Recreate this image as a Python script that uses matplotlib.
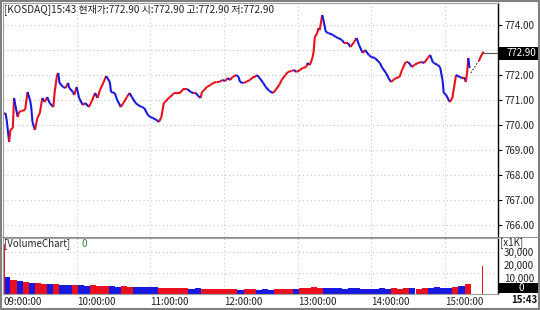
import matplotlib
matplotlib.use('Agg')
import matplotlib.pyplot as plt
import numpy as np
from matplotlib.collections import LineCollection
from matplotlib.patches import Rectangle

plt.rcParams['font.family'] = ['Noto Sans CJK KR', 'DejaVu Sans']

# ---------------- data ----------------
# minutes after 09:00 and KOSDAQ index value
t1 = [0, 2, 3, 5, 6, 8, 9, 10, 12, 13, 15, 18, 20, 22, 23, 24, 26, 28, 30, 32,
      34, 36, 38, 41, 42, 44, 45, 46, 49, 51, 53, 54, 57, 58, 60, 62, 65, 67, 70, 72,
      75, 77, 79, 82, 84, 87, 88, 91, 93, 96, 98, 101, 103]
p1 = [770.44, 770.48, 770.20, 769.32, 769.80, 769.88, 771.08, 770.80, 770.32, 770.52,
      770.56, 770.60, 771.32, 771.00, 770.72, 770.12, 769.80, 770.28, 770.48, 771.08,
      770.92, 771.12, 770.88, 770.72, 771.28, 772.00, 772.08, 771.68, 771.52, 771.48,
      771.68, 771.48, 771.32, 771.20, 771.52, 771.08, 770.80, 770.88, 770.72, 770.92,
      771.28, 771.08, 771.40, 771.72, 771.96, 771.72, 771.32, 771.28, 771.00, 770.72,
      770.88, 771.12, 771.28]
t2 = [105, 108, 110, 113, 115, 118, 120, 122, 125, 127, 129, 131, 132, 135, 138, 139,
      144, 147, 150, 153, 155, 157, 159, 161, 162, 164, 166, 169, 171, 174, 176, 179,
      181, 183, 185, 187, 190, 192, 193, 196, 198, 201, 204]
p2 = [771.12, 770.88, 770.80, 770.72, 770.68, 770.40, 770.32, 770.28, 770.20, 770.12,
      770.32, 770.88, 770.92, 771.08, 771.20, 771.28, 771.28, 771.44, 771.44, 771.32,
      771.28, 771.28, 771.16, 771.08, 771.32, 771.40, 771.52, 771.60, 771.68, 771.72,
      771.72, 771.80, 771.76, 771.88, 771.80, 771.92, 772.00, 771.92, 771.72, 771.68,
      771.72, 771.80, 771.92]
t3 = [205, 207, 209, 212, 214, 217, 220, 222, 225, 227, 230, 232, 235, 237, 239, 242,
      244, 247, 248, 250, 252, 253, 254, 256, 257, 258, 260, 261, 263, 265, 269, 271,
      273, 276, 278, 281, 283, 286, 288, 290, 293, 295, 298, 300]
p3 = [771.92, 772.00, 771.88, 771.68, 771.52, 771.36, 771.28, 771.40, 771.60, 771.80,
      772.00, 772.12, 772.16, 772.20, 772.12, 772.20, 772.28, 772.32, 772.48, 772.40,
      772.68, 772.92, 773.52, 773.68, 773.88, 773.80, 774.40, 774.20, 773.72, 773.68,
      773.60, 773.52, 773.48, 773.40, 773.28, 773.28, 773.12, 773.32, 773.48, 773.20,
      772.88, 773.00, 772.80, 772.72]
t4 = [303, 307, 309, 312, 314, 316, 318, 320, 323, 325, 328, 330, 332, 333, 335, 338,
      341, 343, 346, 348, 350, 351, 354, 356, 358, 359, 361, 363, 364, 366, 368, 369,
      372, 374, 376, 377, 378, 379, 380]
p4 = [772.68, 772.48, 772.28, 772.08, 771.88, 771.72, 771.80, 771.88, 771.92, 772.20,
      772.52, 772.52, 772.40, 772.32, 772.40, 772.48, 772.52, 772.48, 772.68, 772.80,
      772.52, 772.48, 772.40, 772.32, 771.80, 771.28, 771.20, 771.00, 770.92, 771.08,
      771.68, 772.00, 771.92, 771.88, 771.88, 771.72, 772.08, 772.68, 772.28]
auction_t = [381, 388]
auction_p = [772.08, 772.60]
close_t = [388, 389, 391]
close_p = [772.60, 772.72, 772.90]
last_price = 772.90

# volume, 5-minute buckets starting 09:00 (unit: x1K)
vol_09 = [12000, 10000, 9300, 8600, 7900, 7900, 7100, 7100, 7100, 6400, 6400, 6400]
vol_10 = [6400, 5700, 6400, 5700, 5700, 5700, 5000, 5700, 5000, 5000, 5000, 5000]
vol_11 = [5000, 4300, 4300, 4300, 4300, 4300, 3600, 4300, 3600, 3600, 3600, 3600]
vol_12 = [3600, 3600, 2900, 3600, 3600, 2900, 3600, 2900, 3600, 3600, 3600, 3600]
vol_13 = [4300, 4300, 5000, 4300, 4300, 4300, 4300, 3600, 4300, 4300, 3600, 3600]
vol_14 = [3600, 4300, 3600, 4300, 3600, 4300, 4300, 3600, 4300, 4300, 5000, 4300]
vol_15 = [4300, 5000, 5700, 7100]
open_vol = 36000
close_vol = 20000

hour_ticks = [0, 60, 120, 180, 240, 300, 360]
hour_labels = ['09:00:00', '10:00:00', '11:00:00', '12:00:00', '13:00:00', '14:00:00', '15:00:00']
price_ticks = [766, 767, 768, 769, 770, 771, 772, 773, 774]
hidden_price_labels = [773]   # covered by the last-price box in the reference

RED = '#e8101e'
BLUE = '#1818e0'

# ---------------- figure ----------------
W, H = 540, 310
fig = plt.figure(figsize=(W / 100, H / 100), dpi=100)
fig.patch.set_facecolor('white')

def fx(x):
    return x / W

def fy(y):
    return 1 - y / H

XMAX = 403.2
ax = fig.add_axes([fx(3), fy(237), fx(498) - fx(3), fy(3) - fy(237)])
axv = fig.add_axes([fx(3), fy(294), fx(498) - fx(3), fy(238) - fy(294)])

t_all = np.array(t1 + t2 + t3 + t4, dtype=float)
p_all = np.array(p1 + p2 + p3 + p4)

pts = np.column_stack([t_all, p_all])
segs = np.stack([pts[:-1], pts[1:]], axis=1)
cols = [RED if p_all[i + 1] >= p_all[i] else BLUE for i in range(len(p_all) - 1)]
ax.add_collection(LineCollection(segs, colors=cols, linewidths=1.5, capstyle='butt'))
ax.plot(auction_t, auction_p, color='#333333', lw=0.8, ls=(0, (1.5, 1.5)))
ax.plot(close_t, close_p, color=RED, lw=1.5)
ax.plot([close_t[-1], XMAX], [last_price, last_price], color='#555555', lw=0.8, clip_on=False)

ax.set_xlim(0, XMAX)
ax.set_ylim(765.52, 774.88)
ax.set_xticks(hour_ticks)
ax.set_yticks(price_ticks)
ax.grid(True, color='#c4c8bc', lw=0.8, ls=(0, (1, 2.5)))
ax.tick_params(axis='x', length=0, labelbottom=False)
ax.tick_params(axis='y', left=False, labelleft=False, right=True, labelright=True,
               length=3, width=0.8, pad=2, labelsize=7, labelcolor='#222222')
ax.yaxis.set_major_formatter(matplotlib.ticker.FuncFormatter(
    lambda v, pos: '' if round(v) in hidden_price_labels else '%.2f' % v))
for s in ['left', 'top', 'bottom']:
    ax.spines[s].set_color('#a0a0a0')
    ax.spines[s].set_linewidth(0.8)
ax.spines['right'].set_color('#000000')
ax.spines['right'].set_linewidth(1.0)

# volume
vol = vol_09 + vol_10 + vol_11 + vol_12 + vol_13 + vol_14 + vol_15
starts = np.arange(len(vol)) * 5.0
p_start = np.interp(starts, t_all, p_all)
p_end = np.interp(starts + 5, t_all, p_all)
vcols = [RED if e >= s else BLUE for s, e in zip(p_start, p_end)]
axv.bar(starts + 1, vol, width=5, align='edge', color=vcols, linewidth=0)
axv.bar([0], [open_vol], width=1.4, align='edge', color=RED, linewidth=0)
axv.bar([390], [close_vol], width=1.2, align='edge', color=RED, linewidth=0)
axv.set_xlim(0, XMAX)
axv.set_ylim(0, 40000)
axv.set_xticks(hour_ticks)
axv.set_xticklabels(hour_labels, ha='left')
axv.set_yticks([15000, 30000])
axv.grid(True, color='#c4c8bc', lw=0.8, ls=(0, (1, 2.5)))
axv.set_axisbelow(True)
axv.tick_params(axis='x', length=0, pad=2, labelsize=7, labelcolor='#222222')
axv.tick_params(axis='y', left=False, labelleft=False, right=False, length=0)
for s in ['left', 'top', 'bottom']:
    axv.spines[s].set_color('#a0a0a0')
    axv.spines[s].set_linewidth(0.8)
axv.spines['right'].set_color('#000000')
axv.spines['right'].set_linewidth(1.0)

# texts
fig.text(fx(4), fy(10), '[KOSDAQ]15:43 현재가:772.90 시:772.90 고:772.90 저:772.90',
         fontsize=7.2, va='center', ha='left', color='#222222')
fig.text(fx(4), fy(244), '[VolumeChart]', fontsize=7, va='center', ha='left', color='#222222')
fig.text(fx(81), fy(244), '0', fontsize=7, va='center', ha='left', color='#2a8a2a')

# last price box
fig.patches.append(Rectangle((fx(498), fy(60)), fx(539) - fx(498), fy(47) - fy(60),
                             transform=fig.transFigure, facecolor='black', edgecolor='none'))
fig.text(fx(536), fy(53.5), '772.90', fontsize=7, color='white', va='center', ha='right')

# volume scale
fig.text(fx(500), fy(243), '[x1K]', fontsize=7, va='center', ha='left', color='#222222')
for lbl, yy in [('30,000', 253), ('20,000', 266), ('10,000', 279)]:
    fig.text(fx(504), fy(yy), lbl, fontsize=7, va='center', ha='left', color='#222222')
fig.patches.append(Rectangle((fx(498), fy(293)), fx(539) - fx(498), fy(283) - fy(293),
                             transform=fig.transFigure, facecolor='black', edgecolor='none'))
fig.text(fx(521), fy(288), '0', fontsize=7, color='white', va='center', ha='center')
fig.text(fx(537), fy(300), '15:43', fontsize=7, fontweight='bold', va='center', ha='right',
         color='#111111')

# outer frame
fig.patches.append(Rectangle((0.001, 0.002), 0.997, 0.995, transform=fig.transFigure,
                             facecolor='none', edgecolor='#808080', lw=1.5))
fig.patches.append(Rectangle((fx(0), fy(238)), fx(540), fy(237) - fy(238),
                             transform=fig.transFigure, facecolor='#909090', edgecolor='none'))

fig.savefig('out.png', dpi=100)
